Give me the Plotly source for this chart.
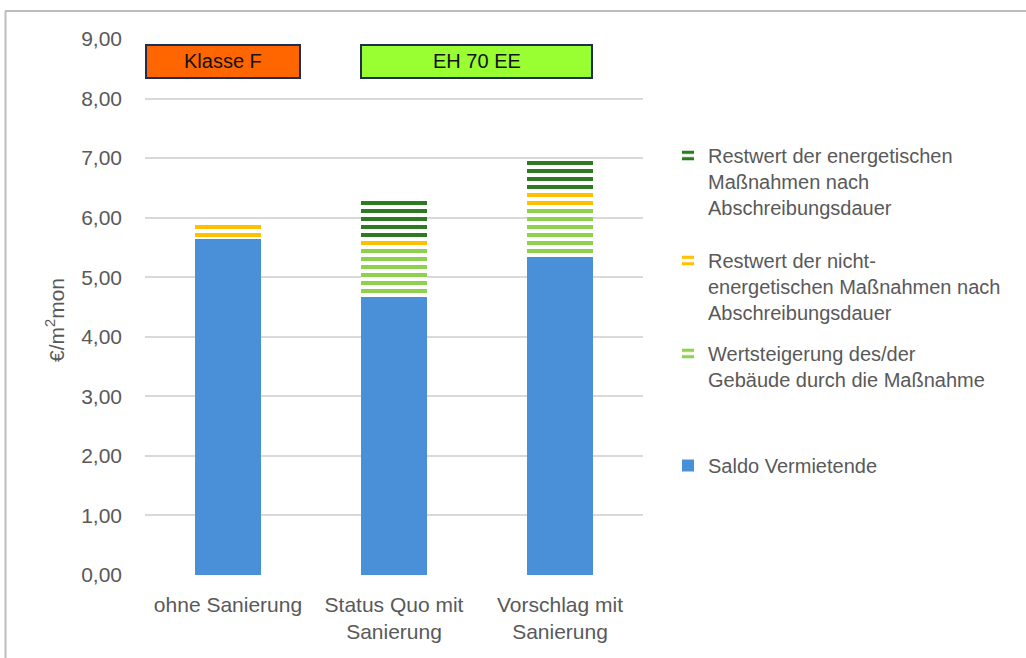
import plotly.graph_objects as go

# Categories and stacked components (€/m² per month)
categories = ["ohne Sanierung", "Status Quo mit<br>Sanierung", "Vorschlag mit<br>Sanierung"]
saldo_vermietende = [5.64, 4.66, 5.34]
wertsteigerung = [0.0, 0.82, 0.82]
restwert_nicht_energetisch = [0.23, 0.14, 0.27]
restwert_energetisch = [0.0, 0.68, 0.55]

tick_vals = [0, 1, 2, 3, 4, 5, 6, 7, 8, 9]
tick_text = ["0,00", "1,00", "2,00", "3,00", "4,00", "5,00", "6,00", "7,00", "8,00", "9,00"]

label_names = ["Klasse F", "EH 70 EE"]
y_title = "€/m<sup>2</sup>mon"

FONT = "Liberation Sans, Arial, sans-serif"
GREY = "#595959"

BLUE = "#4a90d9"
LIGHT_GREEN = "#8fd14f"
GOLD = "#ffc000"
DARK_GREEN = "#2e7a22"


def striped(color):
    return dict(
        color=color,
        line=dict(width=0),
        pattern=dict(shape="-", size=8, solidity=0.5, fgcolor=color,
                     fgopacity=1, bgcolor="white"),
    )


fig = go.Figure()

fig.add_trace(go.Bar(
    x=categories, y=saldo_vermietende, name="Saldo Vermietende",
    marker=dict(color=BLUE, line=dict(width=0)), legend="legend4",
))
fig.add_trace(go.Bar(
    x=categories, y=wertsteigerung,
    name="Wertsteigerung des/der<br>Gebäude durch die Maßnahme",
    marker=striped(LIGHT_GREEN), legend="legend3",
))
fig.add_trace(go.Bar(
    x=categories, y=restwert_nicht_energetisch,
    name="Restwert der nicht-<br>energetischen Maßnahmen nach<br>Abschreibungsdauer",
    marker=striped(GOLD), legend="legend2",
))
fig.add_trace(go.Bar(
    x=categories, y=restwert_energetisch,
    name="Restwert der energetischen<br>Maßnahmen nach<br>Abschreibungsdauer",
    marker=striped(DARK_GREEN), legend="legend",
))

# plot area in pixels: x 145..643, y 39..575
L, R, T, B = 145, 643, 39, 575
W, H = R - L, B - T


def px(xp):
    return (xp - L) / W


def py(yp):
    return (B - yp) / H


legend_common = dict(
    font=dict(family=FONT, size=20, color=GREY),
    bgcolor="rgba(0,0,0,0)",
    xanchor="left", yanchor="top",
    valign="top",
    itemclick=False,
)

LX = px(668)
fig.update_layout(
    width=1026, height=658,
    margin=dict(l=L, r=1026 - R, t=T, b=658 - B),
    paper_bgcolor="white", plot_bgcolor="white",
    barmode="stack", bargap=0.6,
    font=dict(family=FONT, color=GREY),
    showlegend=True,
    legend=dict(x=LX, y=py(136), **legend_common),
    legend2=dict(x=LX, y=py(241), **legend_common),
    legend3=dict(x=LX, y=py(334), **legend_common),
    legend4=dict(x=LX, y=py(446), **legend_common),
    xaxis=dict(
        tickfont=dict(family=FONT, size=21, color=GREY),
        showline=False, zeroline=False, showgrid=False,
        ticks="", ticklabelstandoff=15,
    ),
    yaxis=dict(
        range=[0, 9], tickmode="array", tickvals=tick_vals, ticktext=tick_text,
        tickfont=dict(family=FONT, size=21, color=GREY),
        showgrid=True, gridcolor="#d9d9d9", gridwidth=1.5,
        zeroline=False, showline=False, ticks="", ticklabelstandoff=22,
    ),
)

# y-axis title, placed as a rotated annotation
fig.add_annotation(xref="paper", yref="paper", x=px(55), y=py(320),
                   text=y_title, textangle=-90, showarrow=False,
                   font=dict(family=FONT, size=21, color=GREY),
                   xanchor="center", yanchor="middle")

# label boxes above the bars
boxes = [
    (146, 300, "#ff6600", label_names[0]),
    (361, 592, "#99ff33", label_names[1]),
]
for x0, x1, fill, text in boxes:
    fig.add_shape(type="rect", xref="paper", yref="paper",
                  x0=px(x0), x1=px(x1), y0=py(78), y1=py(45),
                  fillcolor=fill, line=dict(color="#1f2d4f", width=2), layer="above")
    fig.add_annotation(xref="paper", yref="paper", x=px((x0 + x1) / 2), y=py(61.5),
                       text=text, showarrow=False,
                       font=dict(family=FONT, size=20, color="#111111"),
                       xanchor="center", yanchor="middle")

# outer frame (top and left edges)
fig.add_shape(type="line", xref="paper", yref="paper",
              x0=px(5), x1=px(1030), y0=py(11), y1=py(11),
              line=dict(color="#bdbdbd", width=2))
fig.add_shape(type="line", xref="paper", yref="paper",
              x0=px(5.5), x1=px(5.5), y0=py(11), y1=py(662),
              line=dict(color="#bdbdbd", width=2))

fig.write_html("out.html")
